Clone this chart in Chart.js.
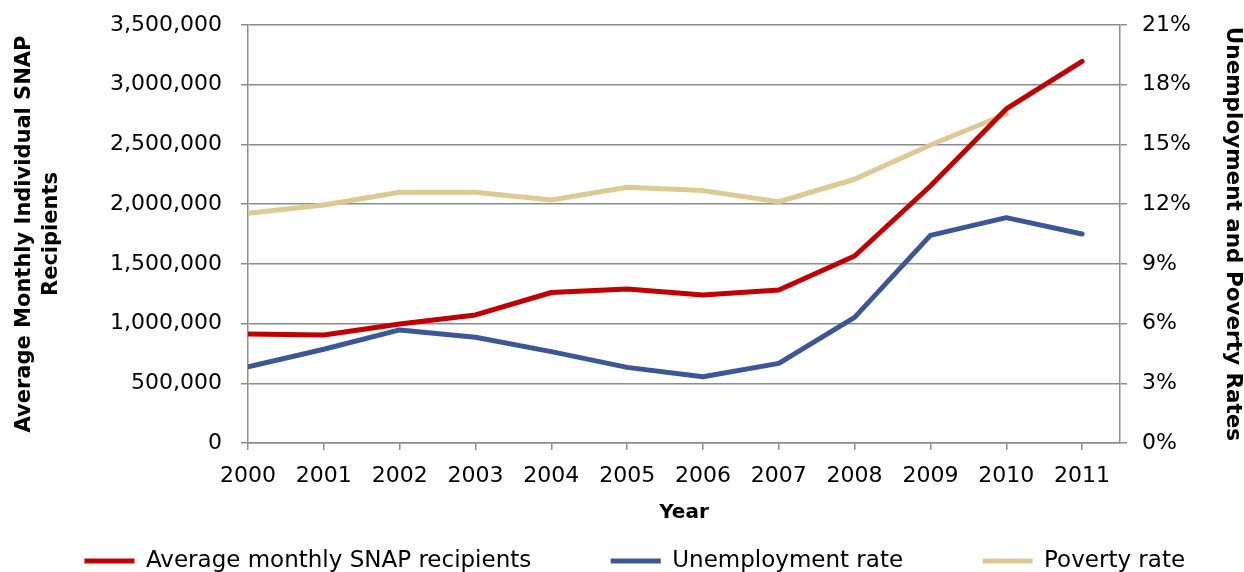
<!DOCTYPE html>
<html>
<head>
<meta charset="utf-8">
<script src="https://cdn.jsdelivr.net/npm/chart.js@4/dist/chart.umd.min.js"></script>
<style>
  html, body { margin: 0; padding: 0; background: #fff; }
  #wrap { width: 1244px; height: 572px; }
</style>
</head>
<body>
<div id="wrap"><canvas id="c" width="1244" height="572"></canvas></div>
<script>
// Years on the horizontal axis
const years = [2000, 2001, 2002, 2003, 2004, 2005, 2006, 2007, 2008, 2009, 2010, 2011];

// Average monthly individual SNAP recipients (left axis)
const snapRecipients = [913000, 905000, 996000, 1072000, 1260000, 1290000, 1239000, 1281000, 1566000, 2152000, 2797000, 3195000];

// Unemployment rate, percent (right axis)
const unemploymentRate = [3.83, 4.71, 5.68, 5.31, 4.59, 3.80, 3.33, 4.00, 6.31, 10.43, 11.32, 10.50];

// Poverty rate, percent (right axis); no figure for 2011
const povertyRate = [11.54, 11.96, 12.60, 12.60, 12.21, 12.85, 12.68, 12.12, 13.25, 14.97, 16.53, null];

// Axis ranges and labels
const leftAxisMax = 3500000;
const leftAxisStep = 500000;
const rightAxisMax = 21;
const rightAxisStep = 3;
const leftAxisTitle = ['Average Monthly Individual SNAP', 'Recipients'];
const rightAxisTitle = 'Unemployment and Poverty Rates';
const xAxisTitle = 'Year';
const seriesNames = ['Average monthly SNAP recipients', 'Unemployment rate', 'Poverty rate'];

const FONT = "'DejaVu Sans', Verdana, sans-serif";
const gridColor = '#8c8c8c';
const tickFont = { family: FONT, size: 22 };

// Frame geometry. The layout box is widened past the canvas on both sides
// so the bottom legend row has room for wide gaps between its entries.
const CANVAS_W = 1244, CANVAS_H = 572;
const PAD_LEFT = -45, PAD_RIGHT = -70.5;
const PLOT_LEFT = 248, PLOT_RIGHT = 1120, PLOT_TOP = 25, PLOT_BOTTOM = 443;
const LEGEND_PAD = 79.5;
const LEGEND_FONT = 23;
const LEGEND_CENTER_Y = 561;
const LEGEND_TOP = LEGEND_CENTER_Y - LEGEND_PAD - LEGEND_FONT / 2;
const X_AXIS_BOTTOM = 530;   // drawing extent of the year labels and axis title
const X_TITLE_Y = 513;

// keep the tick-label overhang from pushing the plot top down
const trimVerticalPadding = (scale) => {
  scale.paddingTop = 8;
  scale.paddingBottom = 8;
};

// The legend's large item padding also pushes its row down, so the x axis box
// ends above the legend top; let the axis draw its labels and title below that.
const extendXAxis = {
  id: 'extendXAxis',
  afterLayout(chart) {
    const x = chart.scales.x;
    x.bottom = X_AXIS_BOTTOM;
  }
};

new Chart(document.getElementById('c'), {
  type: 'line',
  data: {
    labels: years,
    datasets: [
      {
        label: seriesNames[0],
        data: snapRecipients,
        yAxisID: 'y',
        borderColor: '#C00000',
        backgroundColor: '#C00000',
        borderWidth: 5,
        borderCapStyle: 'round',
        borderJoinStyle: 'round',
        pointRadius: 0,
        tension: 0
      },
      {
        label: seriesNames[1],
        data: unemploymentRate,
        yAxisID: 'y1',
        borderColor: '#3B5796',
        backgroundColor: '#3B5796',
        borderWidth: 5,
        borderCapStyle: 'round',
        borderJoinStyle: 'round',
        pointRadius: 0,
        tension: 0
      },
      {
        label: seriesNames[2],
        data: povertyRate,
        yAxisID: 'y1',
        borderColor: '#DEC992',
        backgroundColor: '#DEC992',
        borderWidth: 5,
        borderCapStyle: 'round',
        borderJoinStyle: 'round',
        pointRadius: 0,
        tension: 0
      }
    ]
  },
  plugins: [extendXAxis],
  options: {
    responsive: false,
    animation: false,
    layout: { padding: { top: PLOT_TOP, left: PAD_LEFT, right: PAD_RIGHT, bottom: 0 } },
    plugins: {
      tooltip: { enabled: false },
      legend: {
        position: 'bottom',
        maxHeight: CANVAS_H - LEGEND_TOP,
        labels: {
          usePointStyle: true,
          pointStyle: 'line',
          pointStyleWidth: 50,
          boxHeight: 5,
          padding: LEGEND_PAD,
          color: '#000',
          font: { family: FONT, size: LEGEND_FONT }
        }
      }
    },
    scales: {
      x: {
        type: 'linear',
        min: years[0],
        max: years[years.length - 1] + 0.5,
        afterBuildTicks: (scale) => {
          scale.ticks = years.map(v => ({ value: v }));
        },
        afterFit: (scale) => { scale.height = LEGEND_TOP - PLOT_BOTTOM; },
        ticks: {
          color: '#000',
          font: tickFont,
          padding: 13,
          maxRotation: 0,
          autoSkip: false,
          callback: (v) => String(v)
        },
        grid: {
          drawOnChartArea: false,
          drawTicks: true,
          tickLength: 7,
          color: gridColor,
          lineWidth: 1.5
        },
        border: { color: gridColor, width: 1.5 },
        title: {
          display: true,
          text: xAxisTitle,
          color: '#000',
          font: { family: FONT, size: 20, weight: 'bold', lineHeight: 1.2 },
          padding: { top: 0, bottom: X_AXIS_BOTTOM - 12 - X_TITLE_Y }
        }
      },
      y: {
        position: 'left',
        min: 0,
        max: leftAxisMax,
        afterFit: (scale) => {
          scale.width = PLOT_LEFT - PAD_LEFT;
          trimVerticalPadding(scale);
        },
        ticks: {
          stepSize: leftAxisStep,
          color: '#000',
          font: tickFont,
          padding: 19,
          callback: (v) => Number(v).toLocaleString('en-US')
        },
        grid: {
          color: gridColor,
          lineWidth: 1.5,
          tickLength: 7
        },
        border: { color: gridColor, width: 1.5 },
        title: {
          display: true,
          text: leftAxisTitle,
          color: '#000',
          font: { family: FONT, size: 21, weight: 'bold', lineHeight: 1.286 },
          padding: { top: 11.5 - PAD_LEFT, bottom: 0 }
        }
      },
      y1: {
        position: 'right',
        min: 0,
        max: rightAxisMax,
        afterFit: (scale) => {
          scale.width = CANVAS_W - PAD_RIGHT - PLOT_RIGHT;
          trimVerticalPadding(scale);
        },
        ticks: {
          stepSize: rightAxisStep,
          color: '#000',
          font: tickFont,
          padding: 15,
          callback: (v) => v + '%'
        },
        grid: {
          drawOnChartArea: false,
          color: gridColor,
          lineWidth: 1.5,
          tickLength: 7
        },
        border: { color: gridColor, width: 1.5 },
        title: {
          display: true,
          text: rightAxisTitle,
          color: '#000',
          font: { family: FONT, size: 21.5, weight: 'bold', lineHeight: 1.2 },
          padding: { top: -PAD_RIGHT - 1, bottom: 0 }
        }
      }
    }
  }
});
</script>
</body>
</html>
